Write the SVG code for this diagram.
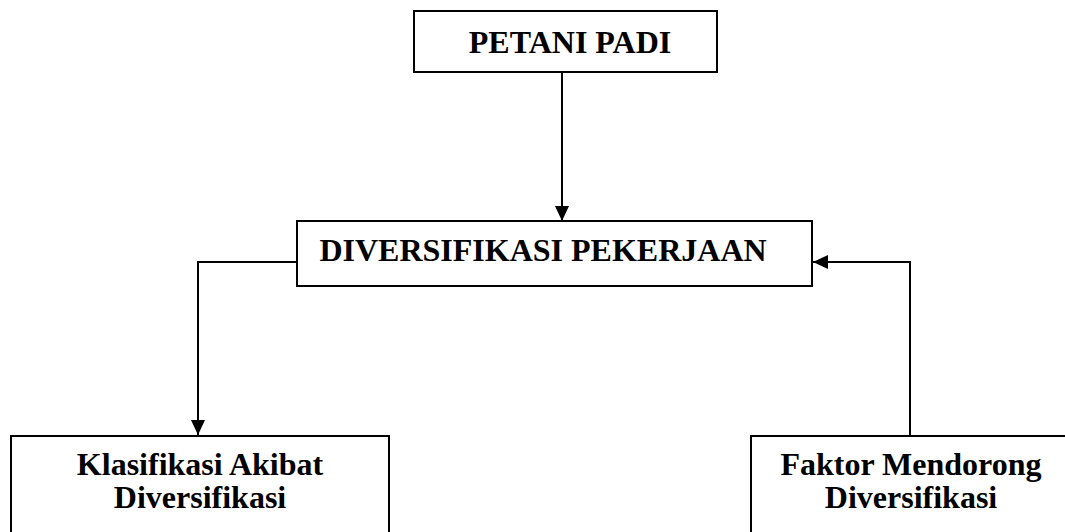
<svg xmlns="http://www.w3.org/2000/svg" width="1065" height="532" viewBox="0 0 1065 532">
<defs>
<marker id="ah" markerWidth="16" markerHeight="14" refX="15" refY="7" orient="auto" markerUnits="userSpaceOnUse">
<path d="M0,0 L15,7 L0,14 Z" fill="#000"/>
</marker>
<style>
.box{fill:#fff;stroke:#000;stroke-width:2}
.t{font-family:"Liberation Serif","Times New Roman",serif;font-weight:bold;font-size:32px;fill:#000;text-anchor:middle}
.c{fill:none;stroke:#000;stroke-width:2}
</style>
</defs>
<rect width="1065" height="532" fill="#fff"/>
<g id="petani">
<rect class="box" x="414" y="11" width="303" height="61"/>
<text class="t" x="570" y="53">PETANI PADI</text>
</g>
<g id="diversifikasi">
<rect class="box" x="297" y="221" width="515" height="65"/>
<text class="t" x="543" y="261">DIVERSIFIKASI PEKERJAAN</text>
</g>
<g id="klasifikasi">
<rect class="box" x="11" y="436" width="378" height="110"/>
<text class="t" x="200" y="475">Klasifikasi Akibat</text>
<text class="t" x="200" y="508">Diversifikasi</text>
</g>
<g id="faktor">
<rect class="box" x="751" y="436" width="320" height="110"/>
<text class="t" x="911" y="475">Faktor Mendorong</text>
<text class="t" x="911" y="508">Diversifikasi</text>
</g>
<g id="connectors">
<path class="c" d="M562,72 L562,221" marker-end="url(#ah)"/>
<path class="c" d="M297,262 L198,262 L198,435" marker-end="url(#ah)"/>
<path class="c" d="M910,436 L910,262 L813,262" marker-end="url(#ah)"/>
</g>
</svg>
